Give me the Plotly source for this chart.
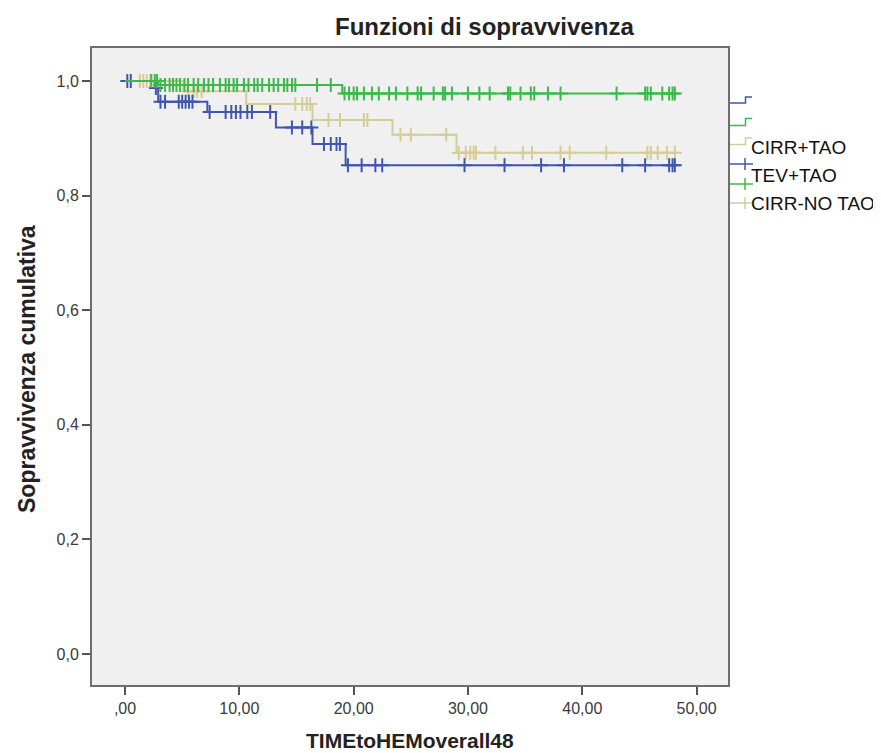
import plotly.graph_objects as go

# ---------------- data ----------------
groups = ["CIRR+TAO", "TEV+TAO", "CIRR-NO TAO"]

# Step curves: event times and survival level reached at each time
blue_times = [0.0, 2.6, 2.9, 7.2, 13.2, 16.4, 19.3]
blue_surv = [1.000, 0.988, 0.964, 0.946, 0.919, 0.890, 0.853]
blue_censored = [0.2, 0.5, 2.7, 3.1, 3.5, 4.7, 5.0, 5.3, 5.6, 5.9,
                 7.4, 8.8, 9.3, 9.7, 10.1, 10.7, 11.1, 12.7,
                 14.6, 15.5, 16.3, 17.4, 18.0, 18.5, 18.8,
                 19.5, 20.7, 21.9, 22.5, 29.7, 33.2, 36.4, 38.4,
                 43.5, 45.5, 47.6, 47.9, 48.1]

green_times = [0.0, 2.9, 19.0]
green_surv = [1.000, 0.993, 0.978]
green_censored = [2.3, 2.6, 2.8, 3.1, 3.5, 3.9, 4.2, 4.5, 4.8, 5.2, 5.5, 6.0,
                  6.4, 6.9, 7.3, 7.7, 8.3, 8.8, 9.1, 9.5, 9.8, 10.4, 10.8,
                  11.3, 11.6, 12.0, 12.6, 13.0, 13.4, 13.9, 14.2, 14.6, 14.9,
                  16.8, 18.0, 19.2, 19.6, 20.0, 20.3, 20.9, 21.6, 22.2, 23.1,
                  23.7, 24.7, 25.6, 25.9, 27.0, 27.8, 28.0, 28.6, 30.0, 31.0,
                  31.9, 33.5, 33.7, 34.6, 35.5, 35.8, 37.0, 38.1, 43.0, 45.5,
                  45.7, 46.0, 47.0, 47.6, 47.9, 48.1]

tan_times = [0.0, 5.1, 10.6, 16.4, 23.4, 29.0]
tan_surv = [1.000, 0.982, 0.960, 0.932, 0.906, 0.875]
tan_censored = [1.3, 1.6, 1.9, 2.2, 5.5, 6.0, 6.3, 6.7, 14.9, 15.5, 15.9,
                16.2, 17.8, 18.8, 20.9, 21.2, 24.1, 25.0, 28.1, 29.2, 29.8,
                30.2, 30.5, 30.7, 32.4, 34.8, 35.6, 38.1, 38.9, 42.1, 45.7,
                46.0, 46.6, 47.4, 48.1]

end_time = 48.1

x_tickvals = [0, 10, 20, 30, 40, 50]
x_ticktext = [",00", "10,00", "20,00", "30,00", "40,00", "50,00"]
y_tickvals = [0.0, 0.2, 0.4, 0.6, 0.8, 1.0]
y_ticktext = ["0,0", "0,2", "0,4", "0,6", "0,8", "1,0"]

BLUE = "#3F56B0"
GREEN = "#3CB94A"
TAN = "#D4CD98"

# ---------------- helpers ----------------
def step_xy(times, surv, tend):
    xs, ys = [], []
    for i, (t, s) in enumerate(zip(times, surv)):
        if i > 0:
            xs.append(t)
            ys.append(surv[i - 1])
        xs.append(t)
        ys.append(s)
    xs.append(tend)
    ys.append(surv[-1])
    return xs, ys


def level_at(times, surv, t):
    lvl = surv[0]
    for tt, s in zip(times, surv):
        if t >= tt:
            lvl = s
    return lvl


fig = go.Figure()

series = [
    (tan_times, tan_surv, tan_censored, TAN),
    (blue_times, blue_surv, blue_censored, BLUE),
    (green_times, green_surv, green_censored, GREEN),
]
for times, surv, cens, col in series:
    xs, ys = step_xy(times, surv, end_time)
    fig.add_trace(go.Scatter(x=xs, y=ys, mode="lines",
                             line=dict(color=col, width=2),
                             showlegend=False, hoverinfo="skip"))
    fig.add_trace(go.Scatter(x=cens, y=[level_at(times, surv, t) for t in cens],
                             mode="markers",
                             marker=dict(symbol="cross-thin", size=10,
                                         line=dict(color=col, width=2)),
                             showlegend=False, hoverinfo="skip"))

# ---------------- layout ----------------
W, H = 881, 753
L, R, T, B = 84, 161, 40, 76
PW, PH = W - L - R, H - T - B


def px(x):
    return (x - L) / PW


def py(y):
    return (H - B - y) / PH


FONT = "Liberation Sans, Arial, sans-serif"

fig.update_layout(
    width=W, height=H,
    margin=dict(l=L, r=R, t=T, b=B),
    paper_bgcolor="white",
    plot_bgcolor="#F0F0F0",
    font=dict(family=FONT, size=16, color="#333333"),
    showlegend=False,
)
fig.update_xaxes(range=[-2.89, 52.75], tickvals=x_tickvals, ticktext=x_ticktext,
                 showgrid=False, zeroline=False, showline=True, mirror=True,
                 linecolor="#6E6E6E", linewidth=2, ticks="outside", ticklen=8,
                 tickwidth=1.5, tickcolor="#555555",
                 tickfont=dict(family=FONT, size=16, color="#3A3A3A"))
fig.update_yaxes(range=[-0.054, 1.0576], tickvals=y_tickvals, ticktext=y_ticktext,
                 showgrid=False, zeroline=False, showline=True, mirror=True,
                 linecolor="#6E6E6E", linewidth=2, ticks="outside", ticklen=8,
                 tickwidth=1.5, tickcolor="#555555",
                 tickfont=dict(family=FONT, size=16, color="#3A3A3A"))

annotations = [
    dict(text="<b>Funzioni di sopravvivenza</b>", x=px(476), y=py(19),
         xref="paper", yref="paper", showarrow=False, xanchor="center",
         yanchor="middle", font=dict(family=FONT, size=24, color="#222222")),
    dict(text="<b>TIMEtoHEMoverall48</b>", x=px(402), y=py(733),
         xref="paper", yref="paper", showarrow=False, xanchor="center",
         yanchor="middle", font=dict(family=FONT, size=21, color="#222222")),
    dict(text="<b>Sopravvivenza cumulativa</b>", x=px(19), y=py(361),
         xref="paper", yref="paper", showarrow=False, xanchor="center",
         yanchor="middle", textangle=-90,
         font=dict(family=FONT, size=23, color="#222222")),
]

# legend (drawn manually to mimic the SPSS layout)
legend_labels = [(groups[0], 139), (groups[1], 167), (groups[2], 195)]
for lab, yy in legend_labels:
    annotations.append(dict(text=lab, x=px(741), y=py(yy), xref="paper",
                            yref="paper", showarrow=False, xanchor="left",
                            yanchor="middle",
                            font=dict(family=FONT, size=19, color="#111111")))

shapes = []
for col, ylow, yhigh in [(BLUE, 95, 89), (GREEN, 117.5, 110.5), (TAN, 136.5, 130)]:
    pts = [(722, ylow), (737.5, ylow), (737.5, yhigh), (744, yhigh)]
    path = "M " + " L ".join(f"{px(a)},{py(b)}" for a, b in pts)
    shapes.append(dict(type="path", path=path, xref="paper", yref="paper",
                       line=dict(color=col, width=1.5)))
for col, yc in [(BLUE, 156), (GREEN, 176), (TAN, 195)]:
    shapes.append(dict(type="line", x0=px(722), x1=px(745), y0=py(yc), y1=py(yc),
                       xref="paper", yref="paper", line=dict(color=col, width=1.5)))
    shapes.append(dict(type="line", x0=px(737), x1=px(737), y0=py(yc - 6),
                       y1=py(yc + 6), xref="paper", yref="paper",
                       line=dict(color=col, width=1.5)))

fig.update_layout(annotations=annotations, shapes=shapes)

fig.write_html("out.html")
